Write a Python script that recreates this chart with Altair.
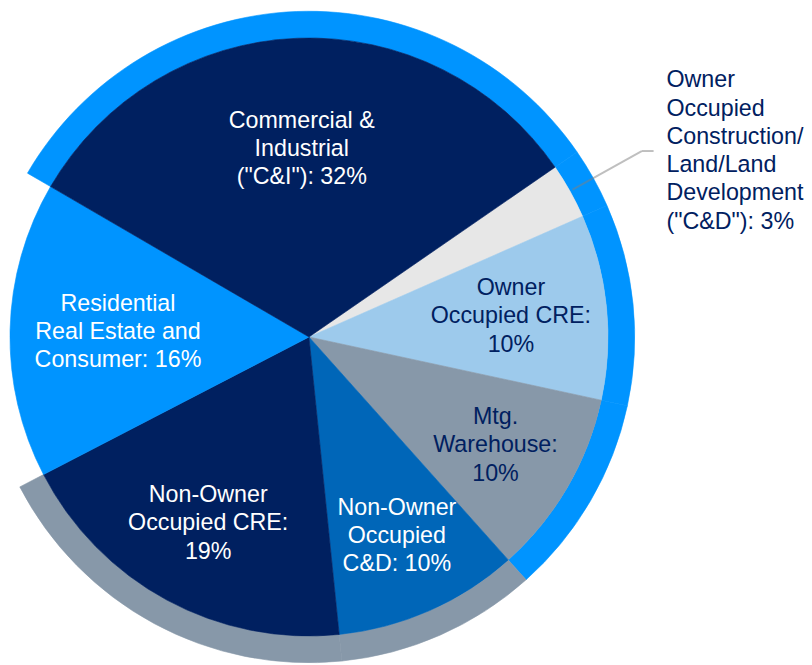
import math
import altair as alt
import pandas as pd

# ---- data ----
categories = [
    "Owner Occupied C&D",
    "Owner Occupied CRE",
    "Mtg. Warehouse",
    "Non-Owner Occupied C&D",
    "Non-Owner Occupied CRE",
    "Residential Real Estate and Consumer",
    "Commercial & Industrial",
]
shares = [3, 10, 10, 10, 19, 16, 32]
labels = [
    "Owner\nOccupied\nConstruction/\nLand/Land\nDevelopment\n(\"C&D\"): 3%",
    "Owner\nOccupied CRE:\n10%",
    "Mtg.\nWarehouse:\n10%",
    "Non-Owner\nOccupied\nC&D: 10%",
    "Non-Owner\nOccupied CRE:\n19%",
    "Residential\nReal Estate and\nConsumer: 16%",
    "Commercial &\nIndustrial\n(\"C&I\"): 32%",
]
ring_groups = [
    "Commercial", "Commercial", "Commercial",
    "Non-Owner Occupied", "Non-Owner Occupied",
    "Residential", "Commercial",
]

df = pd.DataFrame({
    "idx": list(range(len(categories))),
    "cat": categories,
    "share": shares,
    "label": labels,
    "ring": ring_groups,
})

# ---- styling / layout ----
NAVY = "#002060"
slice_colors = ["#E7E7E7", "#9DCAEC", "#8798A9", "#0066B8", NAVY, "#0094FF", NAVY]
ring_domain = ["Commercial", "Non-Owner Occupied", "Residential"]
ring_range = ["#0094FF", "#8798A9", "transparent"]

CX, CY = 304, 329
R_PIE, R_RING = 302, 329
START = math.radians(55.4)
FONT = "Liberation Sans"
FS = 23.5
LH = 28.5

label_r = {
    "Owner Occupied CRE": 205,
    "Mtg. Warehouse": 218,
    "Non-Owner Occupied C&D": 220,
    "Non-Owner Occupied CRE": 214,
    "Residential Real Estate and Consumer": 193,
    "Commercial & Industrial": 190,
}
lr_expr = "0"
for k, v in label_r.items():
    lr_expr = f"datum.cat === '{k}' ? {v} : ({lr_expr})"

dark_text = ["Owner Occupied CRE", "Mtg. Warehouse"]
txt_expr = "indexof([" + ",".join(f"'{c}'" for c in dark_text) + f"], datum.cat) >= 0 ? '{NAVY}' : 'white'"

# vertical shift so a multi-line block is centred on its anchor
shift_expr = f"(length(split(datum.label, '\\n')) - 1) * {LH} / 2"

theta = alt.Theta("share:Q", stack=True,
                  scale=alt.Scale(range=[START, START + 2 * math.pi]))
order = alt.Order("idx:Q", sort="ascending")

base = alt.Chart(df)

ring = base.mark_arc(radius=R_RING, radius2=R_PIE, strokeWidth=0.6).encode(
    theta=theta,
    order=order,
    x=alt.value(CX), y=alt.value(CY),
    color=alt.Color("ring:N", scale=alt.Scale(domain=ring_domain, range=ring_range), legend=None),
    stroke=alt.Stroke("ring:N", scale=alt.Scale(domain=ring_domain, range=ring_range), legend=None),
)

pie = base.mark_arc(radius=R_PIE, strokeWidth=0.6).encode(
    theta=theta,
    order=order,
    x=alt.value(CX), y=alt.value(CY),
    color=alt.Color("cat:N", scale=alt.Scale(domain=categories, range=slice_colors), legend=None),
    stroke=alt.Stroke("cat:N", scale=alt.Scale(domain=categories, range=slice_colors), legend=None),
)

positioned = base.transform_joinaggregate(
    total="sum(share)"
).transform_window(
    cum="sum(share)", sort=[alt.SortField("idx", order="ascending")], frame=[None, 0]
).transform_calculate(
    mid=f"{START} + 2*PI*(datum.cum - datum.share/2)/datum.total",
    shift=shift_expr,
)

inner_labels = positioned.transform_filter(
    "datum.cat !== 'Owner Occupied C&D'"
).transform_calculate(
    lr=lr_expr
).transform_calculate(
    lx=f"{CX} + datum.lr*sin(datum.mid)",
    ly=f"{CY} - datum.lr*cos(datum.mid) - datum.shift",
    tc=txt_expr,
).mark_text(
    font=FONT, fontSize=FS, lineHeight=LH, lineBreak="\n",
    align="center", baseline="middle",
).encode(
    x=alt.X("lx:Q", scale=None, axis=None),
    y=alt.Y("ly:Q", scale=None, axis=None),
    text="label:N",
    color=alt.Color("tc:N", scale=None),
)

leader_base = positioned.transform_filter(
    "datum.cat === 'Owner Occupied C&D'"
).transform_calculate(
    x1=f"{CX} + 305*sin(datum.mid)",
    y1=f"{CY} - 305*cos(datum.mid)",
    x2=f"{CX} + 385*sin(datum.mid)",
    y2=f"{CY} - 385*cos(datum.mid)",
).transform_calculate(
    x3="datum.x2 + 12",
    tx="datum.x2 + 25",
    ty="datum.y2 - datum.shift",
)

leader1 = leader_base.mark_rule(color="#808080", opacity=0.5, strokeWidth=2).encode(
    x=alt.X("x1:Q", scale=None, axis=None),
    y=alt.Y("y1:Q", scale=None, axis=None),
    x2="x2:Q", y2="y2:Q",
)
leader2 = leader_base.mark_rule(color="#808080", opacity=0.5, strokeWidth=2).encode(
    x=alt.X("x2:Q", scale=None, axis=None),
    y=alt.Y("y2:Q", scale=None, axis=None),
    x2="x3:Q",
)
outer_label = leader_base.mark_text(
    font=FONT, fontSize=FS, lineHeight=LH, lineBreak="\n",
    align="left", baseline="middle", color=NAVY,
).encode(
    x=alt.X("tx:Q", scale=None, axis=None),
    y=alt.Y("ty:Q", scale=None, axis=None),
    text="label:N",
)

chart = alt.layer(ring, pie, leader1, leader2, inner_labels, outer_label).resolve_scale(
    color="independent", stroke="independent",
).properties(
    width=804, height=657, autosize="none", padding=0,
).configure_view(stroke=None)

chart.save("out.html", embed_options={"renderer": "svg", "actions": False})
